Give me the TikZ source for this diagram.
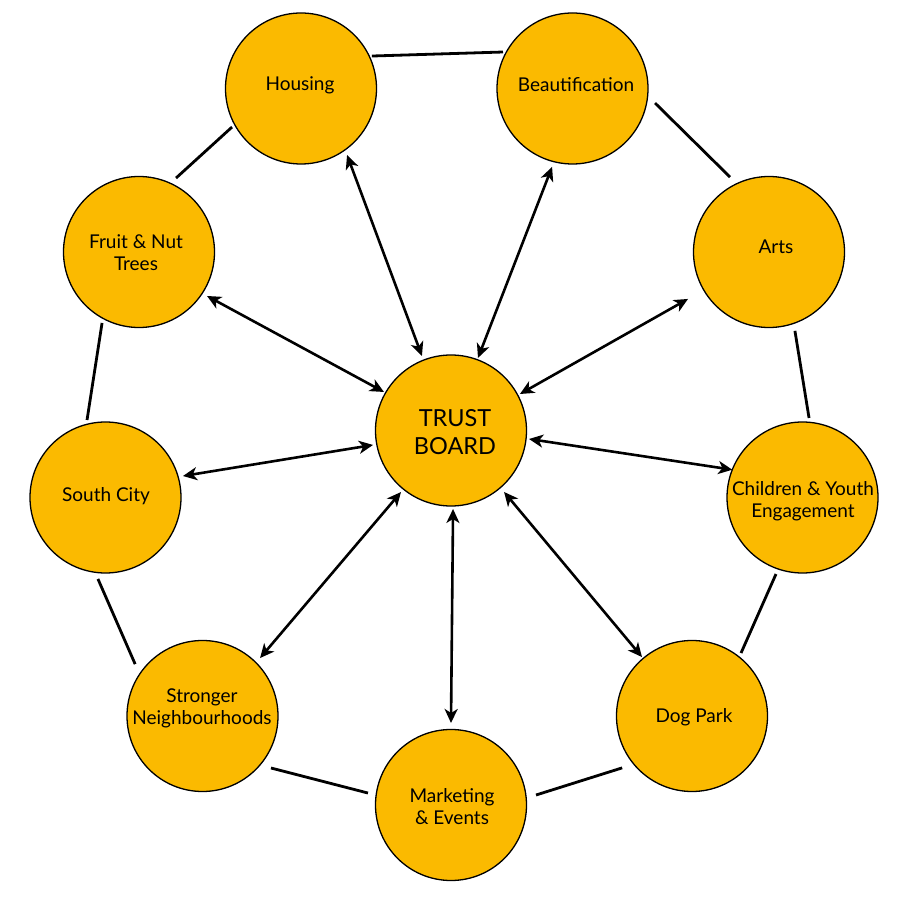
\documentclass[tikz,border=0pt]{standalone}
\usepackage{fontspec}
\setmainfont{Lato}
\usetikzlibrary{arrows.meta,calc}
\definecolor{gold}{RGB}{251,186,0}
\tikzset{
  bubble/.style={circle,draw=black,fill=gold,line width=1.3pt,minimum size=151pt,inner sep=0pt},
  lbl/.style={font=\fontsize{19}{22}\selectfont,align=center,inner sep=0pt,text=black},
  biglbl/.style={font=\fontsize{23.5}{28.5}\selectfont,align=center,inner sep=0pt,text=black},
  link/.style={line width=2.8pt,black},
  dbl/.style={line width=2.6pt,black,{Stealth[length=14pt,width=13pt,inset=4pt]}-{Stealth[length=14pt,width=13pt,inset=4pt]}}
}
\begin{document}
\begin{tikzpicture}[x=1pt,y=1pt]
\useasboundingbox (0,0) rectangle (904,900);
\fill[white] (0,0) rectangle (904,900);
% circles
\node[bubble] (housing)  at (301,811.5) {};
\node[bubble] (beaut)    at (572.5,811.5) {};
\node[bubble] (arts)     at (769,648) {};
\node[bubble] (children) at (802.5,402.5) {};
\node[bubble] (dog)      at (692,184) {};
\node[bubble] (market)   at (451,95) {};
\node[bubble] (stronger) at (202.5,184) {};
\node[bubble] (south)    at (105.5,402.5) {};
\node[bubble] (fruit)    at (139,648) {};
\node[bubble] (trust)    at (451,469.5) {};
% labels
\node[lbl] (housingL)  at (300,815) {Housing};
\node[lbl] (beautL)    at (576,815) {Beautification};
\node[lbl] (artsL)     at (776,653) {Arts};
\node[lbl] (childrenL) at (803,399) {Children \& Youth\\Engagement};
\node[lbl] (dogL)      at (694,183) {Dog Park};
\node[lbl] (marketL)   at (452,93) {Marketing\\\& Events};
\node[lbl] (strongerL) at (202,192) {Stronger\\Neighbourhoods};
\node[lbl] (southL)    at (106,404) {South City};
\node[lbl] (fruitL)    at (136,647) {Fruit \& Nut\\Trees};
\node[biglbl] (trustL) at (455,468) {TRUST\\BOARD};
% ring links
\draw[link] ($(housing)+(24.6:78)$) -- ($(beaut)+(152.3:78.5)$);
\draw[link] ($(beaut)+(350:83.8)$) -- ($(arts)+(117.5:84.5)$);
\draw[link] ($(arts)+(288.2:83)$) -- ($(children)+(85.3:79.8)$);
\draw[link] ($(children)+(250.9:81)$) -- ($(dog)+(52.1:79.8)$);
\draw[link] ($(dog)+(216.6:87)$) -- ($(market)+(6.7:85.6)$);
\draw[link] ($(market)+(171.8:83.9)$) -- ($(stronger)+(322.8:86)$);
\draw[link] ($(stronger)+(142.4:85)$) -- ($(south)+(264.7:81.8)$);
\draw[link] ($(south)+(103.4:79.7)$) -- ($(fruit)+(242.5:80)$);
\draw[link] ($(fruit)+(63.4:82.7)$) -- ($(housing)+(209.2:79)$);
% arrows from trust board
\draw[dbl] ($(trust)+(111.3:80)$) -- ($(housing)+(304.7:80.9)$);
\draw[dbl] ($(trust)+(69.6:77.4)$) -- ($(beaut)+(255.4:81)$);
\draw[dbl] ($(trust)+(27.9:78)$) -- ($(arts)+(210.1:93.6)$);
\draw[dbl] ($(trust)+(353.8:78.5)$) -- ($(children)+(158.4:75.5)$);
\draw[dbl] ($(trust)+(310.8:81.2)$) -- ($(dog)+(130.3:77.3)$);
\draw[dbl] ($(trust)+(271.5:78.5)$) -- ($(market)+(90:82)$);
\draw[dbl] ($(trust)+(230.9:79.3)$) -- ($(stronger)+(45.2:81.7)$);
\draw[dbl] ($(trust)+(190.5:79.3)$) -- ($(south)+(15.5:80.4)$);
\draw[dbl] ($(trust)+(150.1:77.3)$) -- ($(fruit)+(327.1:81)$);
\end{tikzpicture}
\end{document}
